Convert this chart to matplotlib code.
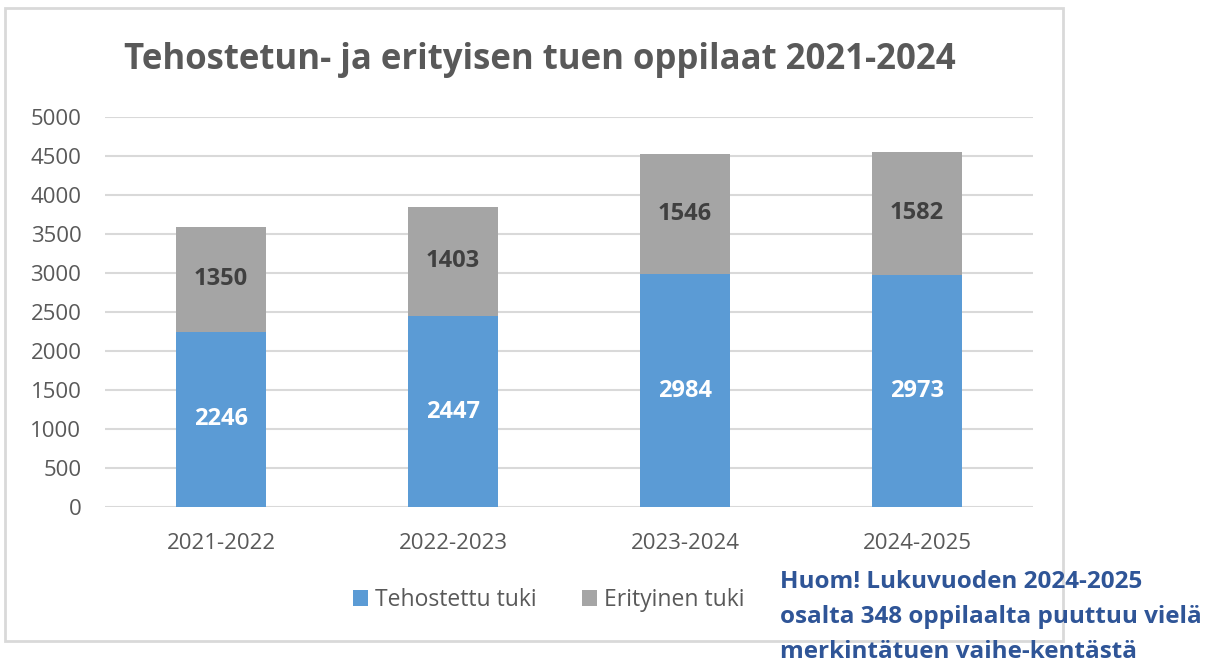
import numpy as np
import matplotlib.pyplot as plt
from matplotlib.patches import Rectangle

plt.rcParams['font.family'] = ['Open Sans', 'DejaVu Sans']

# data
years = ['2021-2022', '2022-2023', '2023-2024', '2024-2025']
tehostettu = [2246, 2447, 2984, 2973]
erityinen = [1350, 1403, 1546, 1582]

blue = '#5B9BD5'
grey = '#A5A5A5'
text_grey = '#595959'

fig = plt.figure(figsize=(12.1, 6.65), dpi=100)
ax = fig.add_axes([105 / 1210, 1 - 507 / 665, 928 / 1210, 390 / 665])

x = np.arange(len(years))
w = 0.39
ax.bar(x, tehostettu, w, color=blue, label='Tehostettu tuki', zorder=3)
ax.bar(x, erityinen, w, bottom=tehostettu, color=grey, label='Erityinen tuki', zorder=3)

# arvot palkkien sisään
for i in range(len(years)):
    ax.text(x[i], tehostettu[i] / 2, str(tehostettu[i]), ha='center', va='center',
            color='white', fontsize=17, fontweight='bold', zorder=4)
    ax.text(x[i], tehostettu[i] + erityinen[i] / 2, str(erityinen[i]), ha='center', va='center',
            color='#404040', fontsize=17, fontweight='bold', zorder=4)

ax.set_xlim(-0.5, len(years) - 0.5)
ax.set_ylim(0, 5000)
ax.set_yticks(np.arange(0, 5001, 500))
ax.set_xticks(x)
ax.set_xticklabels(years)
ax.tick_params(axis='both', length=0, labelsize=16, labelcolor=text_grey)
ax.tick_params(axis='y', pad=17)
ax.tick_params(axis='x', pad=19)
ax.grid(axis='y', color='#D9D9D9', linewidth=1.5, zorder=0)
for s in ax.spines.values():
    s.set_visible(False)

fig.text(540 / 1210, 1 - 60 / 665, 'Tehostetun- ja erityisen tuen oppilaat 2021-2024',
         ha='center', va='center', fontsize=25, fontweight='bold', color=text_grey)

fig.legend(loc='center', bbox_to_anchor=(549 / 1210, 1 - 600 / 665), ncol=2, frameon=False,
           fontsize=16.5, labelcolor=text_grey, handlelength=0.65, handleheight=0.65,
           handletextpad=0.3, columnspacing=2.0)

# kaavion reunus
fig.patches.append(Rectangle((5 / 1210, 1 - 641 / 665), 1058 / 1210, 633 / 665,
                             transform=fig.transFigure, fill=False,
                             edgecolor='#D9D9D9', linewidth=2))

fig.text(780 / 1210, 1 - 617 / 665,
         'Huom! Lukuvuoden 2024-2025\nosalta 348 oppilaalta puuttuu vielä\nmerkintätuen vaihe-kentästä',
         ha='left', va='center', fontsize=17.5, fontweight='bold', color='#2F5597',
         linespacing=1.6)

fig.savefig('out.png', dpi=100)
